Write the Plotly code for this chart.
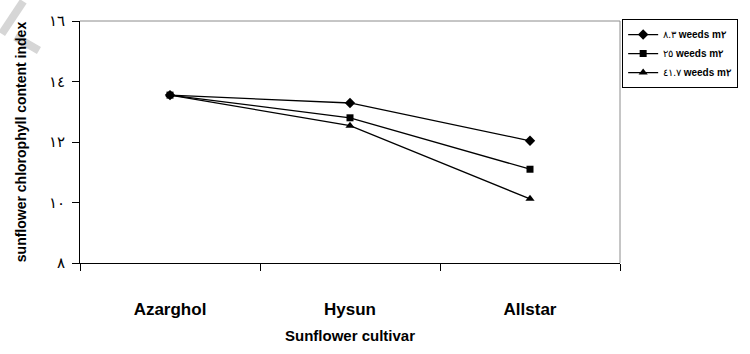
import plotly.graph_objects as go

# Sunflower cultivars on the category axis
cultivars = ["Azarghol", "Hysun", "Allstar"]

# Chlorophyll content index for each weed density
density_labels = ["٨.٣ <b>weeds m٢</b>", "٢٥ <b>weeds m٢</b>", "٤١.٧ <b>weeds m٢</b>"]
chl_8_3 = [13.55, 13.29, 12.04]
chl_25 = [13.55, 12.80, 11.10]
chl_41_7 = [13.55, 12.54, 10.12]

# y-axis ticks written with Arabic-Indic digits
y_tickvals = [8, 10, 12, 14, 16]
y_ticktext = ["٨", "١٠", "١٢", "١٤", "١٦"]

series = [
    (density_labels[0], chl_8_3, "diamond", 8),
    (density_labels[1], chl_25, "square", 7),
    (density_labels[2], chl_41_7, "triangle-up", 8),
]

SANS = "Liberation Sans Narrow, Liberation Sans, Arial, sans-serif"

fig = go.Figure()
for name, vals, sym, size in series:
    fig.add_trace(go.Scatter(
        x=cultivars, y=vals, name=name, mode="lines+markers",
        line=dict(color="black", width=1.3),
        marker=dict(symbol=sym, size=size, color="black"),
    ))

fig.update_layout(
    width=750, height=354,
    margin=dict(l=80, r=118, t=20, b=87),
    paper_bgcolor="white", plot_bgcolor="white",
    showlegend=True,
    legend=dict(
        x=1.004, y=1.008, xanchor="left", yanchor="top",
        bordercolor="black", borderwidth=1, bgcolor="white",
        font=dict(family=SANS, size=10, color="black"),
        itemwidth=30, tracegroupgap=0,
    ),
    xaxis=dict(
        type="category", range=[-0.5, 2.5], tickson="boundaries",
        ticks="outside", ticklen=7, tickcolor="black",
        showline=True, linecolor="black", linewidth=1,
        showgrid=False, zeroline=False,
        ticklabelstandoff=31,
        tickfont=dict(family=SANS, size=17, color="black", weight="bold"),
        title=dict(text="Sunflower cultivar", standoff=12,
                   font=dict(family=SANS, size=15, color="black", weight="bold")),
    ),
    yaxis=dict(
        range=[8, 16], tickvals=y_tickvals, ticktext=y_ticktext,
        ticks="outside", ticklen=7, tickcolor="black",
        showline=True, linecolor="black", linewidth=1,
        showgrid=False, zeroline=False,
        ticklabelstandoff=4,
        tickfont=dict(family="DejaVu Sans", size=15, color="black"),
        title=dict(text="sunflower chlorophyll content index", standoff=18,
                   font=dict(family=SANS, size=14, color="black", weight="bold")),
    ),
    shapes=[
        # grey top and right edges of the plot frame
        dict(type="line", xref="paper", yref="paper", x0=0, x1=1, y0=1, y1=1,
             line=dict(color="#8c8c8c", width=1)),
        dict(type="line", xref="paper", yref="paper", x0=1, x1=1, y0=0, y1=1,
             line=dict(color="#8c8c8c", width=1)),
        # faint watermark strokes in the top-left corner
        dict(type="line", xref="paper", yref="paper", layer="below",
             x0=-0.105, y0=1.081, x1=-0.145, y1=0.947,
             line=dict(color="#d6d6d6", width=8)),
        dict(type="line", xref="paper", yref="paper", layer="below",
             x0=-0.12, y0=0.935, x1=-0.076, y1=0.878,
             line=dict(color="#d6d6d6", width=8)),
    ],
)

fig.write_html("out.html")
